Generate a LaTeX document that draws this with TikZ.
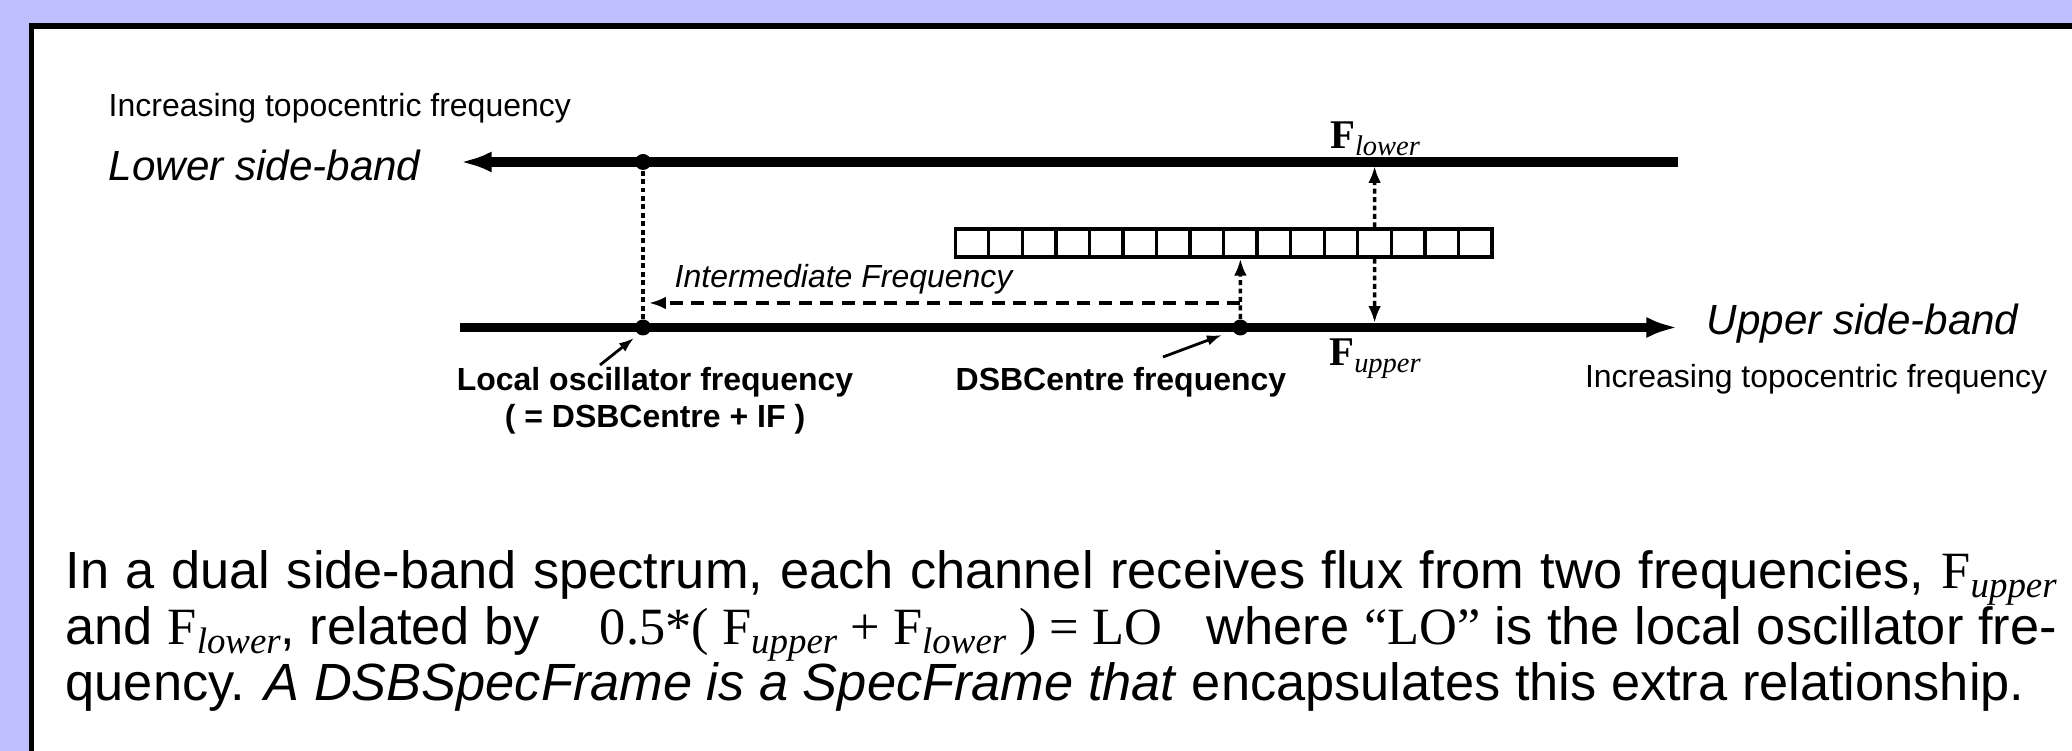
\documentclass[tikz,border=0pt]{standalone}
\usepackage{fontspec}
\setmainfont{Liberation Serif}
\setsansfont{Liberation Sans}
\usetikzlibrary{arrows.meta}
\definecolor{slideback}{RGB}{191,191,255}
\newcommand{\Fsub}[2]{F\raisebox{-0.35ex}{\fontsize{#2}{#2}\selectfont\itshape #1}}
\tikzset{
  band/.style={line width=2.7pt},
  bandhead/.tip={Latex[length=9pt,width=6pt]},
  cell/.style={draw,line width=0.95pt,minimum width=0.3355cm,minimum height=0.28cm,inner sep=0pt},
  dotmark/.style={circle,fill,inner sep=0pt,minimum size=0.16cm},
  dotlink/.style={line width=1pt,dash pattern=on 1.4pt off 1pt},
  dashlink/.style={line width=0.9pt,dash pattern=on 3.7pt off 2.4pt},
  smallhead/.style={-{Latex[length=4.8pt,width=3.6pt]}},
  pointer/.style={line width=0.8pt,-{Latex[length=4.3pt,width=3pt]}},
  labeltext/.style={inner sep=0pt,font=\sffamily\fontsize{9.1}{10.8}\selectfont},
  bandtext/.style={inner sep=0pt,font=\sffamily\itshape\fontsize{12}{14}\selectfont},
  freqtext/.style={inner sep=0pt,font=\fontsize{11.6}{14}\selectfont}
}
\begin{document}
\begin{tikzpicture}
  \useasboundingbox (0,0) rectangle (20.72,7.51);
  \clip (0,0) rectangle (20.72,7.51);
  \fill[slideback] (0,0) rectangle (20.72,7.51);
  \draw[line width=1.56pt,fill=white] (0.315,-1) rectangle (22,7.25);
  % side-bands
  \coordinate (lsbL) at (4.60,5.89);
  \coordinate (lsbR) at (16.78,5.89);
  \coordinate (usbL) at (4.60,4.235);
  \coordinate (usbR) at (16.78,4.235);
  \draw[band,{bandhead}-] (lsbL) -- (lsbR);
  \draw[band,-{bandhead}] (usbL) -- (usbR);
  \node[dotmark] (loup) at (6.43,5.89) {};
  \node[dotmark] (lolow) at (6.43,4.235) {};
  \node[dotmark] (dsb) at (12.404,4.235) {};
  % channels
  \foreach \i in {0,...,15}
    \node[cell] (c\i) at (9.552+0.3355*\i+0.16775,5.08) {};
  \coordinate (flow) at (13.746,5.85);
  \coordinate (fup) at (13.746,4.28);
  \coordinate (ifR) at (12.404,4.48);
  \coordinate (ifL) at (6.49,4.48);
  \draw[dotlink] (loup) -- (lolow);
  \draw[dotlink,smallhead] (dsb) -- (c8.south);
  \draw[dashlink,smallhead] (ifR) -- (ifL);
  \draw[dotlink,smallhead] (c12.north) -- (flow);
  \draw[dotlink,smallhead] (c12.south) -- (fup);
  % labels
  \node[labeltext,anchor=base west] (inclow) at (1.08,6.34) {Increasing topocentric frequency};
  \node[bandtext,anchor=base west] (lsbtext) at (1.08,5.70) {Lower side-band};
  \node[bandtext,anchor=base west] (usbtext) at (17.06,4.16) {Upper side-band};
  \node[labeltext,anchor=base east] (incup) at (20.48,3.63) {Increasing topocentric frequency};
  \node[labeltext,font=\sffamily\itshape\fontsize{9.1}{10.8}\selectfont,anchor=base west] (iftext) at (6.74,4.63) {Intermediate Frequency};
  \node[freqtext,anchor=base] (flowtext) at (13.75,6.02) {\textbf{F}\raisebox{-0.35ex}{\fontsize{8.1}{8.1}\selectfont\itshape lower}};
  \node[freqtext,anchor=base] (fuptext) at (13.75,3.85) {\textbf{F}\raisebox{-0.35ex}{\fontsize{8.1}{8.1}\selectfont\itshape upper}};
  \node[labeltext,font=\sffamily\bfseries\fontsize{9.1}{10.8}\selectfont,align=center,anchor=base] (lotext) at (6.55,3.23) {Local oscillator frequency\\( = DSBCentre + IF )};
  \node[labeltext,font=\sffamily\bfseries\fontsize{9.1}{10.8}\selectfont,anchor=base west] (dsbtext) at (9.55,3.60) {DSBCentre frequency};
  \coordinate (lotail) at (6.00,3.86);
  \coordinate (lotip) at (6.34,4.13);
  \coordinate (dsbtail) at (11.63,3.94);
  \coordinate (dsbtip) at (12.22,4.16);
  \draw[pointer] (lotail) -- (lotip);
  \draw[pointer] (dsbtail) -- (dsbtip);
  % caption
  \node[anchor=base west,text width=19.91cm,align=justify,inner sep=0pt,font=\sffamily\fontsize{14.9}{15.9}\selectfont] (caption) at (0.65,1.62)
    {In a dual side-band spectrum, each channel receives flux from two frequencies, \textrm{\Fsub{upper}{10.5}}\linebreak
     and \textrm{\Fsub{lower}{10.5}}, related by\hspace{0.6cm}\textrm{0.5*( \Fsub{upper}{10.5} + \Fsub{lower}{10.5} ) = LO}\hspace{0.3cm} where \textrm{“LO”} is the local oscillator fre-\linebreak
     quency. \textit{A DSBSpecFrame is a SpecFrame that} encapsulates this extra relationship.};
\end{tikzpicture}
\end{document}
